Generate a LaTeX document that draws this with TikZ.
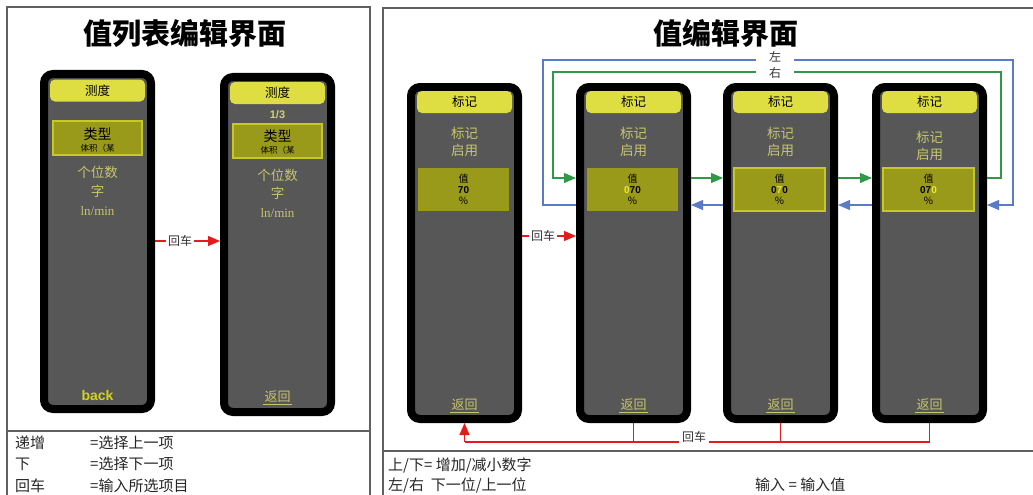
\documentclass[tikz,border=0pt]{standalone}
\usepackage{fontspec}
\setmainfont{Liberation Serif}
\setsansfont{Liberation Sans}
\newfontfamily\cjk{Noto Sans CJK SC}
\usetikzlibrary{arrows.meta,calc}
\definecolor{phgray}{HTML}{575757}
\definecolor{hdyel}{HTML}{DEDE42}
\definecolor{boxol}{HTML}{9A9A1A}
\definecolor{boxedge}{HTML}{C8C824}
\definecolor{txol}{HTML}{C6C66A}
\definecolor{backyel}{HTML}{D2D220}
\definecolor{digyel}{HTML}{E8E83A}
\definecolor{grn}{HTML}{2E9A48}
\definecolor{blu}{HTML}{5A7CC8}
\definecolor{rd}{HTML}{E51A1A}
\definecolor{frame}{HTML}{606060}
\definecolor{lbl}{HTML}{333333}
\begin{document}
\begin{tikzpicture}[x=1pt,y=-1pt,
  phone/.style={draw=black, line width=8pt, fill=phgray, rounded corners=9pt,
    minimum width=107pt, inner sep=0pt, outer sep=4pt},
  hdr/.style={fill=hdyel, rounded corners=5pt, minimum width=95pt, minimum height=22pt,
    inner sep=0pt, font=\cjk\fontsize{12.5}{13}\selectfont},
  hibox/.style={fill=boxol, draw=boxedge, line width=2pt, minimum width=89pt, minimum height=34pt, inner sep=0pt},
  valbox/.style={fill=boxol, minimum width=91pt, minimum height=43pt, inner sep=0pt, align=center,
    font=\cjk\fontsize{10}{11.3}\selectfont},
  oltext/.style={text=txol, font=\cjk\fontsize{13.5}{17}\selectfont, align=center, inner sep=0pt},
  ret/.style={text=txol, font=\cjk\fontsize{13}{13}\selectfont, inner sep=1pt},
  title/.style={font=\cjk\bfseries\fontsize{29}{29}\selectfont, inner sep=0pt},
  legend/.style={font=\cjk\fontsize{15}{15}\selectfont, anchor=west, inner sep=0pt, text=black!85},
  rlabel/.style={font=\cjk\fontsize{12}{12}\selectfont, text=lbl, fill=white, inner sep=2pt},
  redl/.style={draw=rd, line width=1.3pt},
  tip/.style={-{Triangle[length=12pt,width=10pt]}},
  grnl/.style={draw=grn, line width=1.3pt},
  blul/.style={draw=blu, line width=1.3pt},
  frm/.style={draw=frame, line width=2pt}
]
\useasboundingbox (0,0) rectangle (1033,495);

% ---------- panel frames ----------
\draw[frm] (7,500) -- (7,7) -- (370,7) -- (370,500);
\draw[frm] (7,431) -- (370,431);
\draw[frm] (383,500) -- (383,8) -- (1040,8);
\draw[frm] (383,451) -- (1040,451);

% ---------- left panel ----------
\node[title] (t1) at (185,33) {值列表编辑界面};

\node[phone, minimum height=335pt] (L1) at (97.5,241.5) {};
\node[phone, minimum height=335pt] (L2) at (277.5,244.5) {};

\node[hdr] (L1h) at (97.5,90.5) {测度};
\node[hdr] (L2h) at (277.5,93) {测度};

\node[font=\sffamily\bfseries\fontsize{11}{11}\selectfont, text=txol!85!white, inner sep=0pt] (L2n) at (277.5,115) {1/3};

\node[hibox] (L1b) at (97.5,138) {};
\node[hibox] (L2b) at (277.5,140.5) {};
\node[font=\cjk\fontsize{14}{14}\selectfont, inner sep=0pt] (L1t) at (97.5,134) {类型};
\node[font=\cjk\fontsize{8.5}{8.5}\selectfont, inner sep=0pt] (L1s) at (97.5,148) {体积（某};
\node[font=\cjk\fontsize{14}{14}\selectfont, inner sep=0pt] (L2t) at (277.5,136) {类型};
\node[font=\cjk\fontsize{8.5}{8.5}\selectfont, inner sep=0pt] (L2s) at (277.5,150) {体积（某};

\node[oltext] (L1m1) at (97.5,172) {个位数};
\node[oltext] (L1m2) at (97.5,191) {字};
\node[text=txol, font=\fontsize{13}{13}\selectfont, inner sep=0pt] (L1m3) at (97.5,211) {ln/min};
\node[oltext] (L2m1) at (277.5,175) {个位数};
\node[oltext] (L2m2) at (277.5,193) {字};
\node[text=txol, font=\fontsize{13}{13}\selectfont, inner sep=0pt] (L2m3) at (277.5,213) {ln/min};

\node[text=backyel, font=\sffamily\bfseries\fontsize{14}{14}\selectfont, inner sep=0pt] (L1back) at (97.5,395) {back};
\node[ret] (L2ret) at (277.5,397) {返回};
\draw[txol, line width=0.6pt] (L2ret.south west) -- (L2ret.south east);

\node[rlabel] (lr) at (180,241) {回车};
\draw[redl] (L1.east |- lr) -- (lr.west);
\draw[redl, tip] (lr.east) -- (L2.west |- lr);

% legend left
\node[legend] (k1a) at (15,443) {递增};
\node[legend] (k1b) at (90,443) {=选择上一项};
\node[legend] (k2a) at (15,464) {下};
\node[legend] (k2b) at (90,464) {=选择下一项};
\node[legend] (k3a) at (15,486) {回车};
\node[legend] (k3b) at (90,486) {=输入所选项目};

% ---------- right panel ----------
\node[title] (t2) at (726,33) {值编辑界面};

\foreach \n/\x in {P1/464.5, P2/633.5, P3/780.5, P4/929.5}{
  \node[phone, minimum height=332pt] (\n) at (\x,253) {};
  \node[hdr] (\n h) at (\x,102) {标记};
  \node[ret] (\n ret) at (\x,405) {返回};
  \draw[txol, line width=0.6pt] (\n ret.south west) -- (\n ret.south east);
}
\node[oltext] (P1m) at (464.5,142) {标记\\启用};
\node[oltext] (P2m) at (633.5,142) {标记\\启用};
\node[oltext] (P3m) at (780.5,142) {标记\\启用};
\node[oltext] (P4m) at (929.5,146) {标记\\启用};

\node[valbox] (P1v) at (463.5,189.5) {值\\{\sffamily\bfseries 70}\\\%};
\node[valbox] (P2v) at (632.5,189.5) {值\\{\sffamily\bfseries{\color{digyel}0}70}\\\%};
\node[valbox, draw=boxedge, line width=1.5pt] (P3v) at (779.5,189.5) {值\\{\sffamily\bfseries 0{\color{digyel}7}0}\\\%};
\node[valbox, draw=boxedge, line width=1.5pt] (P4v) at (928.5,189.5) {值\\{\sffamily\bfseries 07{\color{digyel}0}}\\\%};

% green loop (rightwards)
\coordinate (gy) at (0,178);
\coordinate (gR) at (1001,72);
\coordinate (gL) at (553,72);
\draw[grnl, tip] (P4.east |- gy) -| (gR) -- (gL) |- (P2.west |- gy);
\draw[grnl, tip] (P2.east |- gy) -- (P3.west |- gy);
\draw[grnl, tip] (P3.east |- gy) -- (P4.west |- gy);

% blue loop (leftwards)
\coordinate (by) at (0,205);
\coordinate (bR) at (1013,60);
\coordinate (bL) at (543,60);
\draw[blul, tip] (P2.west |- by) -| (bL) -- (bR) |- (P4.east |- by);
\draw[blul, tip] (P4.west |- by) -- (P3.east |- by);
\draw[blul, tip] (P3.west |- by) -- (P2.east |- by);

\node[font=\cjk\fontsize{12}{15.5}\selectfont, text=lbl, fill=white, align=center,
  minimum width=38pt, inner sep=1pt] (lrlab) at (775,65) {左\\右};

% enter P1 -> P2
\node[rlabel] (rr) at (543,236) {回车};
\draw[redl] (P1.east |- rr) -- (rr.west);
\draw[redl, tip] (rr.east) -- (P2.west |- rr);

% bottom return
\coordinate (rb) at (464.5,442);
\draw[draw=rd, line width=1.2pt] (P4.south) |- (rb);
\draw[draw=rd, line width=1.2pt] (P3.south) -- (P3.south |- rb);
\draw[draw=rd, line width=1.2pt] (P2.south) -- (P2.south |- rb);
\draw[redl, tip] (rb) -- (P1.south);
\node[rlabel, inner sep=3pt] (br) at (694,437) {回车};

% legend right
\node[legend] (r1) at (388,465) {上/下=\ 增加/减小数字};
\node[legend] (r2) at (388,485) {左/右\ \ 下一位/上一位};
\node[legend] (r3) at (755,485) {输入\ =\ 输入值};
\end{tikzpicture}
\end{document}
